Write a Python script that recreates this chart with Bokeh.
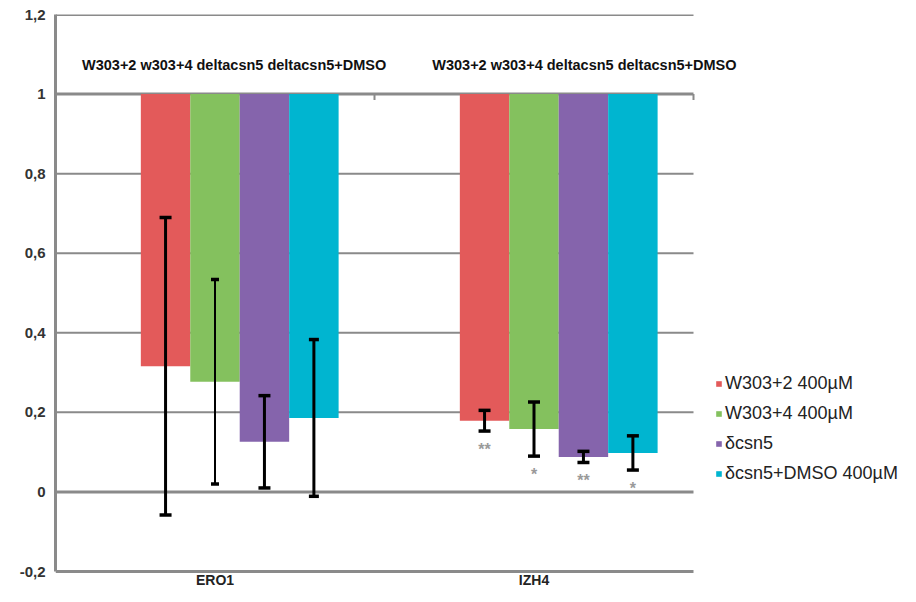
from bokeh.plotting import figure
from bokeh.models import (ColumnDataSource, Range1d, FixedTicker, CustomJSTickFormatter,
                          Label, Legend, LegendItem)
from bokeh.embed import file_html
from bokeh.resources import INLINE
from bokeh.core.properties import value

# ---------------- data ----------------
genes = ["ERO1", "IZH4"]
series = ["W303+2 400\u00b5M", "W303+4 400\u00b5M", "\u03b4csn5", "\u03b4csn5+DMSO 400\u00b5M"]
ero1_values = [0.316, 0.277, 0.126, 0.186]
ero1_errors = [0.374, 0.257, 0.116, 0.197]
izh4_values = [0.179, 0.158, 0.088, 0.098]
izh4_errors = [0.026, 0.068, 0.014, 0.043]
izh4_marks = ["**", "*", "**", "*"]
y_ticks = [-0.2, 0, 0.2, 0.4, 0.6, 0.8, 1.0, 1.2]
strain_header = "W303+2 w303+4 deltacsn5 deltacsn5+DMSO"
baseline = 1.0

# ---------------- style / layout ----------------
colors = ["#E35A5A", "#84C15E", "#8564AC", "#00B5D0"]
err_widths = [[3, 2, 3, 3], [3, 3, 3, 3]]
cap_sizes = [[12, 8, 12, 10], [12, 12, 12, 12]]
step = 0.155
offsets = [(i - 1) * step for i in range(len(series))]
grid_col = "#8a8a8a"
FONT = "Liberation Sans"
W, H = 900, 586
frame_left, frame_top = 55, 14
data_right_px = 693          # where the category area ends (gridlines end)
data_bottom_px = 571         # pixel row of the lowest tick (-0.2)
n = len(genes)
y_lo, y_hi = y_ticks[0], y_ticks[-1]
ppu = (data_bottom_px - frame_top) / (y_hi - y_lo)
x_end = n * (W - frame_left) / (data_right_px - frame_left)
y_start = y_lo - (H - data_bottom_px) / ppu

p = figure(width=W, height=H, x_range=Range1d(0, x_end), y_range=Range1d(y_start, y_hi),
           output_backend="svg", toolbar_location=None,
           min_border_left=frame_left, min_border_right=0, min_border_top=frame_top,
           min_border_bottom=0)
p.outline_line_color = None
p.background_fill_color = "white"
p.xgrid.visible = False
p.ygrid.visible = False
p.xaxis.visible = False

# y axis
p.yaxis.ticker = FixedTicker(ticks=y_ticks)
p.yaxis.bounds = (y_lo, y_hi)
p.yaxis.formatter = CustomJSTickFormatter(code="""
    var s = (Math.round(tick * 10) / 10).toString();
    return s.replace('.', ',');
""")
p.yaxis.axis_line_color = grid_col
p.yaxis.axis_line_width = 3
p.yaxis.major_tick_line_color = None
p.yaxis.minor_tick_line_color = None
p.yaxis.major_tick_out = 0
p.yaxis.major_tick_in = 0
p.yaxis.major_label_standoff = 10
p.yaxis.major_label_text_font = FONT
p.yaxis.major_label_text_font_style = "bold"
p.yaxis.major_label_text_font_size = "15px"
p.yaxis.major_label_text_color = "#333333"

# horizontal grid lines across the category area
heavy = {-0.2, 0, 1.0, 1.2}
p.segment(x0=[0] * len(y_ticks), x1=[n] * len(y_ticks), y0=y_ticks, y1=y_ticks,
          line_color=grid_col, line_width=[3 if t in heavy else 2 for t in y_ticks])

# small category boundary ticks on the baseline axis
tick_len = 6 / ppu
bx = [i + 1 for i in range(n)]
p.segment(x0=bx, x1=bx, y0=[baseline] * n, y1=[baseline - tick_len] * n,
          line_color=grid_col, line_width=2)

# category labels below the bottom line
p.text(x=[i + 0.5 for i in range(n)], y=[y_lo] * n, text=genes, y_offset=8,
       text_align="center", text_baseline="middle", text_font=value(FONT),
       text_font_size="14px", text_font_style="bold", text_color="#222222")

values = [ero1_values, izh4_values]
errors = [ero1_errors, izh4_errors]

items = []
for i, name in enumerate(series):
    xs = [g + 0.5 + offsets[i] for g in range(n)]
    vals = [values[g][i] for g in range(n)]
    errs = [errors[g][i] for g in range(n)]
    src = ColumnDataSource(dict(
        x=xs, bottom=vals, top=[baseline] * n,
        lower=[v - e for v, e in zip(vals, errs)],
        upper=[v + e for v, e in zip(vals, errs)],
        lw=[err_widths[g][i] for g in range(n)],
        cap=[cap_sizes[g][i] for g in range(n)],
    ))
    r = p.vbar(x="x", width=step, top="top", bottom="bottom", source=src,
               fill_color=colors[i], line_color=None)
    items.append(LegendItem(label=name, renderers=[r]))
    p.segment(x0="x", x1="x", y0="lower", y1="upper", source=src,
              line_color="black", line_width="lw")
    p.scatter(x="x", y="upper", size="cap", marker="dash", source=src,
              line_color="black", line_width=3.5)
    p.scatter(x="x", y="lower", size="cap", marker="dash", source=src,
              line_color="black", line_width=3.5)

# significance marks under IZH4 error bars
g = genes.index("IZH4")
mark_src = ColumnDataSource(dict(
    x=[g + 0.5 + o for o in offsets],
    y=[v - e for v, e in zip(izh4_values, izh4_errors)],
    t=izh4_marks,
))
p.text(x="x", y="y", text="t", source=mark_src, y_offset=10,
       text_align="center", text_baseline="top", text_font=value(FONT),
       text_font_size="16px", text_font_style="bold", text_color="#9a9a9a")

# header labels above each group
for gi, dx in enumerate([0.06, 0.158]):
    p.add_layout(Label(x=gi + 0.5 + dx, y=1.072, text=strain_header,
                       text_align="center", text_baseline="middle",
                       text_font=FONT, text_font_size="14.5px",
                       text_font_style="bold", text_color="#111111"))

legend = Legend(items=items, location=(660, 102))
legend.label_text_font = FONT
legend.label_text_font_size = "18px"
legend.label_text_color = "#222222"
legend.glyph_width = 7
legend.glyph_height = 7
legend.label_standoff = 3
legend.spacing = 9
legend.padding = 0
legend.margin = 0
legend.border_line_color = None
legend.background_fill_alpha = 0
p.add_layout(legend)

open("out.html", "w").write(file_html(p, INLINE))
